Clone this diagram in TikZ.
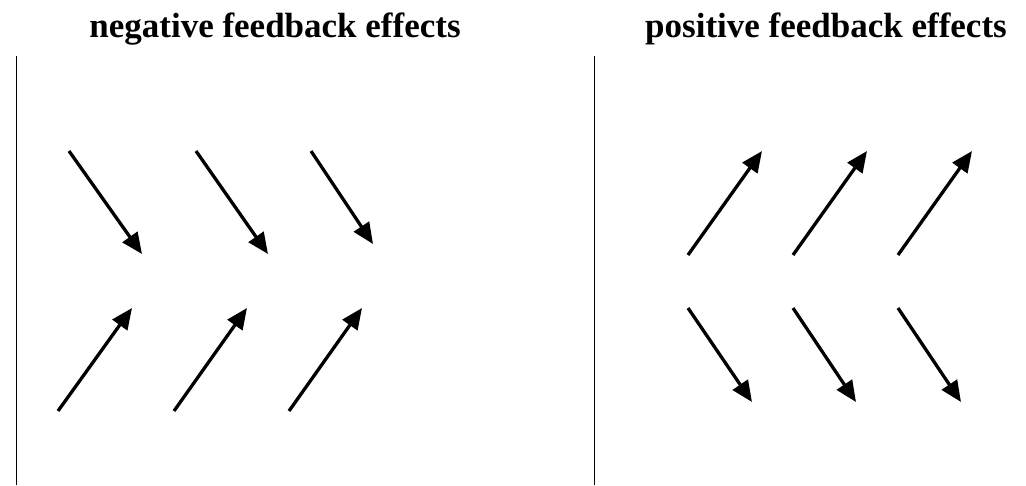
\documentclass[tikz,border=0pt]{standalone}
\usepackage{fontspec}
\setmainfont{Liberation Serif}
\usetikzlibrary{arrows.meta}
\begin{document}
\begin{tikzpicture}[x=1pt,y=-1pt,
  fb/.style={line width=3.3pt,-{Triangle[length=21pt,width=18pt]}},
  divider/.style={line width=1pt},
  title/.style={anchor=base,font=\fontsize{35}{42}\selectfont\bfseries,inner sep=0pt}]
\useasboundingbox[fill=white] (0,0) rectangle (1026,485);
\node[title] (tneg) at (275,37) {negative feedback effects};
\node[title] (tpos) at (826,37) {positive feedback effects};
\draw[divider] (16,56) -- (16,485);
\draw[divider] (594,56) -- (594,485);
% negative: top row
\draw[fb] (69,151) -- (142,254);
\draw[fb] (196,151) -- (268,254);
\draw[fb] (311,151) -- (373,244);
% negative: bottom row
\draw[fb] (58,411) -- (132,308);
\draw[fb] (174,411) -- (247,308);
\draw[fb] (289,411) -- (362,308);
% positive: top row
\draw[fb] (688,255) -- (762,151);
\draw[fb] (793,255) -- (867,151);
\draw[fb] (898,255) -- (972,151);
% positive: bottom row
\draw[fb] (688,308) -- (752,402);
\draw[fb] (793,308) -- (856,402);
\draw[fb] (898,308) -- (961,402);
\end{tikzpicture}
\end{document}
